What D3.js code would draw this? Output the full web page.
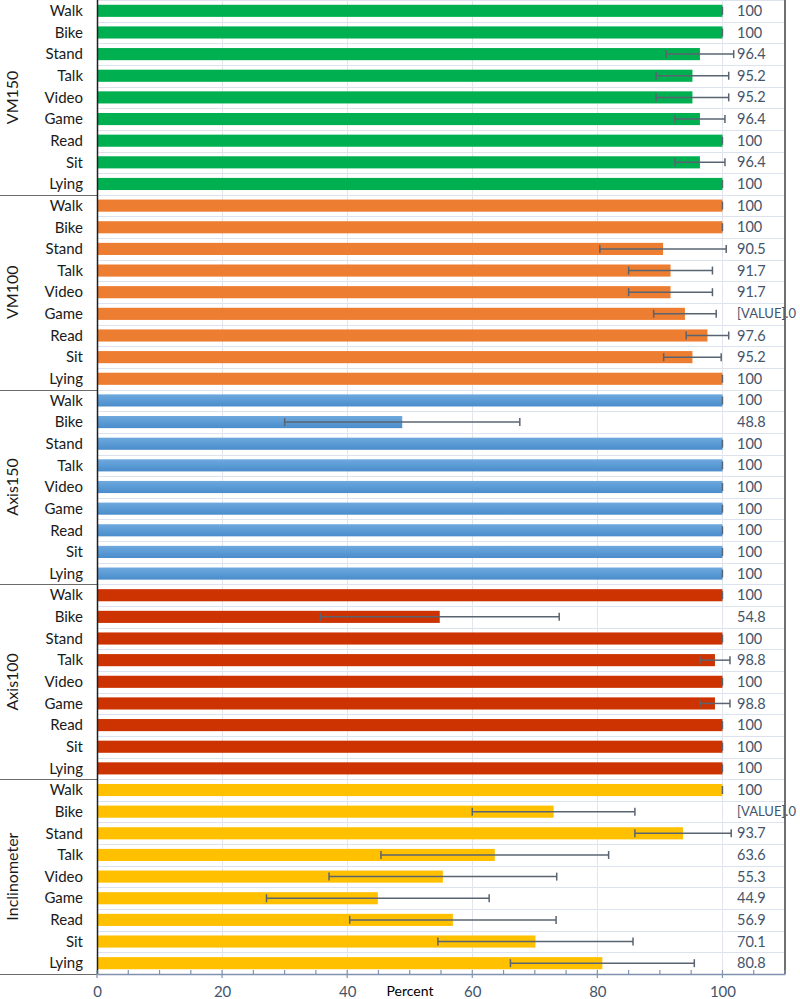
<!DOCTYPE html>
<html>
<head>
<meta charset="utf-8">
<script src="https://cdn.jsdelivr.net/npm/d3@7"></script>
<style>
  html, body { margin: 0; padding: 0; background: #fff; }
  svg { display: block; font-family: Lato, "Open Sans", sans-serif; }
</style>
</head>
<body>
<div id="chart"></div>
<script>
// ---- data ----
const groups = ["VM150", "VM100", "Axis150", "Axis100", "Inclinometer"];
const activities = ["Walk", "Bike", "Stand", "Talk", "Video", "Game", "Read", "Sit", "Lying"];
const groupColors = ["#00b050", "#ed7d31", "#5b9bd5", "#cc3300", "#ffc000"];

const vm150Values = [100, 100, 96.4, 95.2, 95.2, 96.4, 100, 96.4, 100];
const vm150Errors = [0, 0, 5.4, 5.8, 5.8, 4.0, 0, 4.0, 0];
const vm150Labels = ["100", "100", "96.4", "95.2", "95.2", "96.4", "100", "96.4", "100"];

const vm100Values = [100, 100, 90.5, 91.7, 91.7, 94.0, 97.6, 95.2, 100];
const vm100Errors = [0, 0, 10.1, 6.7, 6.7, 5.0, 3.4, 4.6, 0];
const vm100Labels = ["100", "100", "90.5", "91.7", "91.7", "[VALUE].0", "97.6", "95.2", "100"];

const axis150Values = [100, 48.8, 100, 100, 100, 100, 100, 100, 100];
const axis150Errors = [0, 18.8, 0, 0, 0, 0, 0, 0, 0];
const axis150Labels = ["100", "48.8", "100", "100", "100", "100", "100", "100", "100"];

const axis100Values = [100, 54.8, 100, 98.8, 100, 98.8, 100, 100, 100];
const axis100Errors = [0, 19.1, 0, 2.4, 0, 2.4, 0, 0, 0];
const axis100Labels = ["100", "54.8", "100", "98.8", "100", "98.8", "100", "100", "100"];

const inclinometerValues = [100, 73.0, 93.7, 63.6, 55.3, 44.9, 56.9, 70.1, 80.8];
const inclinometerErrors = [0, 13.0, 7.7, 18.2, 18.2, 17.8, 16.5, 15.6, 14.7];
const inclinometerLabels = ["100", "[VALUE].0", "93.7", "63.6", "55.3", "44.9", "56.9", "70.1", "80.8"];

const xMajorTicks = [0, 20, 40, 60, 80, 100];
const xTitle = "Percent";

// ---- build rows ----
const seriesValues = [vm150Values, vm100Values, axis150Values, axis100Values, inclinometerValues];
const seriesErrors = [vm150Errors, vm100Errors, axis150Errors, axis100Errors, inclinometerErrors];
const seriesLabels = [vm150Labels, vm100Labels, axis150Labels, axis100Labels, inclinometerLabels];
const rows = [];
groups.forEach((g, gi) => {
  activities.forEach((a, ai) => {
    rows.push({
      key: g + "|" + a, group: g, gi, activity: a,
      value: seriesValues[gi][ai], err: seriesErrors[gi][ai], label: seriesLabels[gi][ai]
    });
  });
});

// ---- layout ----
const W = 800, H = 999;
const mLeft = 97, mRight = 785, mTop = 0, mBottom = 974;

const svg = d3.select("#chart").append("svg").attr("width", W).attr("height", H);

const x = d3.scaleLinear().domain([0, 110]).range([mLeft, mRight]);
const y = d3.scaleBand().domain(rows.map(r => r.key)).range([mTop, mBottom]).paddingInner(0.44).paddingOuter(0.22);
const step = y.step();

// gradient for blue
const defs = svg.append("defs");
const grad = defs.append("linearGradient").attr("id", "blueGrad").attr("x1", 0).attr("y1", 0).attr("x2", 0).attr("y2", 1);
grad.append("stop").attr("offset", "0%").attr("stop-color", "#6fa9de");
grad.append("stop").attr("offset", "50%").attr("stop-color", "#5b9bd5");
grad.append("stop").attr("offset", "100%").attr("stop-color", "#4a8ccb");

// horizontal gridlines at band boundaries
const gridG = svg.append("g");
d3.range(rows.length + 1).forEach(i => {
  const yy = Math.round(mTop + i * step) + 0.5;
  gridG.append("line").attr("x1", mLeft).attr("x2", mRight).attr("y1", yy).attr("y2", yy)
    .attr("stroke", "#dde3ee").attr("stroke-width", 1);
});
// vertical gridlines
[20, 40, 60, 80, 100].forEach(v => {
  gridG.append("line").attr("x1", Math.round(x(v)) + 0.5).attr("x2", Math.round(x(v)) + 0.5)
    .attr("y1", mTop).attr("y2", mBottom).attr("stroke", "#e2e5ec").attr("stroke-width", 1);
});

// bars
svg.append("g").selectAll("rect").data(rows).join("rect")
  .attr("x", x(0))
  .attr("y", d => y(d.key))
  .attr("width", d => x(d.value) - x(0))
  .attr("height", y.bandwidth())
  .attr("fill", d => d.gi === 2 ? "url(#blueGrad)" : groupColors[d.gi]);

// error bars
const eb = svg.append("g").attr("stroke", "#5a6470").attr("stroke-width", 1.5);
rows.forEach(d => {
  const cy = y(d.key) + y.bandwidth() / 2;
  const lo = x(d.value - d.err), hi = x(d.value + d.err);
  if (d.err > 0) {
    eb.append("line").attr("x1", lo).attr("x2", hi).attr("y1", cy).attr("y2", cy);
    eb.append("line").attr("x1", lo).attr("x2", lo).attr("y1", cy - 4).attr("y2", cy + 4);
  }
  eb.append("line").attr("x1", hi).attr("x2", hi).attr("y1", cy - 4).attr("y2", cy + 4);
});

// value labels (shrink font if a label would run past the page edge)
svg.append("g").selectAll("text").data(rows).join("text")
  .attr("x", 737)
  .attr("y", d => y(d.key) + y.bandwidth() / 2)
  .attr("dy", "0.35em")
  .attr("font-size", 14.5)
  .attr("fill", "#44546a")
  .text(d => d.label)
  .each(function () {
    const len = this.getComputedTextLength();
    const avail = 796 - 737;
    if (len > avail) d3.select(this).attr("font-size", Math.floor(14.5 * avail / len * 10) / 10);
  });

// category labels
svg.append("g").selectAll("text").data(rows).join("text")
  .attr("x", 83)
  .attr("y", d => y(d.key) + y.bandwidth() / 2)
  .attr("dy", "0.35em")
  .attr("text-anchor", "end")
  .attr("font-size", 15)
  .attr("fill", "#1a1a1a")
  .text(d => d.activity);

// group labels and separators
groups.forEach((g, gi) => {
  const y0 = mTop + gi * 9 * step, y1 = mTop + (gi + 1) * 9 * step;
  svg.append("text")
    .attr("transform", `translate(12,${(y0 + y1) / 2}) rotate(-90)`)
    .attr("text-anchor", "middle").attr("dy", "0.35em")
    .attr("font-size", 16).attr("fill", "#1a1a1a").text(g);
  svg.append("line").attr("x1", 0).attr("x2", mLeft).attr("y1", Math.round(y1) + 0.5).attr("y2", Math.round(y1) + 0.5)
    .attr("stroke", "#6b6b6b").attr("stroke-width", 1.2);
});

// frame: left axis and right border
svg.append("line").attr("x1", mLeft + 0.5).attr("x2", mLeft + 0.5).attr("y1", mTop).attr("y2", mBottom)
  .attr("stroke", "#1f1f1f").attr("stroke-width", 1.5);
svg.append("line").attr("x1", mRight).attr("x2", mRight).attr("y1", mTop).attr("y2", mBottom)
  .attr("stroke", "#404040").attr("stroke-width", 1.5);

// x axis
const xAxis = d3.axisBottom(x).tickValues(xMajorTicks).tickSize(0).tickPadding(12).tickFormat(d3.format("d"));
const axG = svg.append("g").attr("transform", `translate(0,${mBottom})`).call(xAxis);
axG.select(".domain").attr("stroke", "#7f93b0").attr("stroke-width", 1.5);
axG.selectAll("text").attr("font-size", 15).attr("fill", "#44546a").attr("font-family", "Lato, 'Open Sans', sans-serif");
// minor ticks
d3.range(0, 111, 5).forEach(v => {
  const major = v % 20 === 0 && v <= 100;
  axG.append("line").attr("x1", x(v)).attr("x2", x(v))
    .attr("y1", -4).attr("y2", major ? 4 : 0)
    .attr("stroke", "#7f93b0").attr("stroke-width", 1.2);
});

svg.append("text").attr("x", 410).attr("y", mBottom + 12).attr("dy", "0.71em")
  .attr("text-anchor", "middle").attr("font-size", 14).attr("fill", "#000").text(xTitle);
</script>
</body>
</html>
